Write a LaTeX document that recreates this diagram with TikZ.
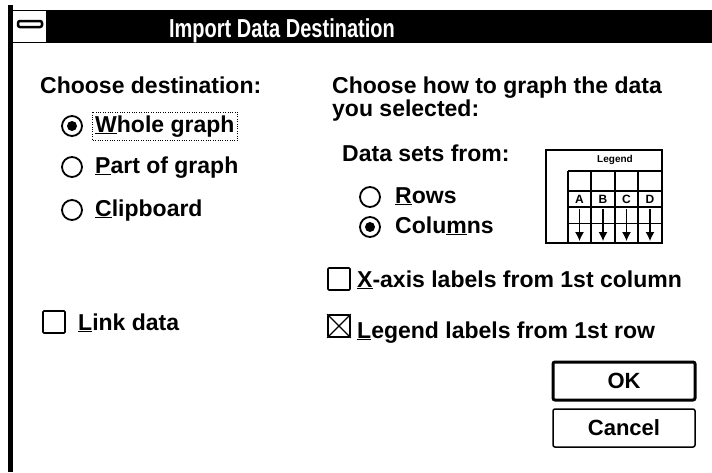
\documentclass[tikz,border=0pt]{standalone}
\usepackage{fontspec}
\setmainfont{Liberation Sans}
\usepackage{graphicx}
\usepackage{tikz}
\usetikzlibrary{arrows.meta, positioning, calc}

\tikzset{
  lbl/.style={anchor=base west, inner sep=0pt, font=\fontsize{23}{27}\selectfont\bfseries},
  radio/.style={circle, draw, line width=1.8pt, minimum size=20pt, inner sep=0pt},
  radiodot/.style={circle, fill, minimum size=10pt, inner sep=0pt},
  chkbox/.style={draw, line width=1.6pt, minimum size=22pt, inner sep=0pt, rounded corners=1pt},
  btn/.style={draw, minimum width=142pt, minimum height=38pt, inner sep=0pt, rounded corners=2pt,
    font=\fontsize{22}{26}\selectfont\bfseries},
}

\begin{document}
\begin{tikzpicture}[x=1pt, y=-1pt]
  \useasboundingbox (0,0) rectangle (712,472);

  % Window frame and title bar
  \fill (8,5) rectangle (13,472);
  \fill (8,10) rectangle (712,43);
  \fill[white] (13,11) rectangle (46,42);
  \draw[line width=2.5pt, rounded corners=2pt] (18,21) rectangle (42,27);
  \node[anchor=base, inner sep=0pt, text=white, font=\fontsize{26}{28}\selectfont\bfseries]
    (title) at (282,37) {\scalebox{0.77}[1]{Import Data Destination}};

  % Destination choices
  \node[lbl] (dest) at (40,93) {Choose destination:};
  \node[radio] (rwhole) at (72,126) {};
  \node[radiodot] (rwholedot) at (rwhole) {};
  \node[lbl] (whole) at (95,132) {\underline{W}hole graph};
  \draw[dotted, thin] ([xshift=-3pt,yshift=3pt]whole.north west) rectangle ([xshift=3pt,yshift=-3pt]whole.south east);
  \node[radio] (rpart) at (72,167) {};
  \node[lbl] (part) at (95,173) {\underline{P}art of graph};
  \node[radio] (rclip) at (72,210) {};
  \node[lbl] (clip) at (95,216) {\underline{C}lipboard};

  % Link check box
  \node[chkbox] (blink) at (54,322) {};
  \node[lbl] (link) at (78,330) {\underline{L}ink data};

  % How to graph
  \node[lbl, anchor=north west, align=left, font=\fontsize{23}{20}\selectfont\bfseries]
    (howto) at (332,77) {Choose how to graph the data\\you selected:};
  \node[lbl] (sets) at (342,161) {Data sets from:};
  \node[radio] (rrows) at (370,197) {};
  \node[lbl] (rows) at (395,203) {\underline{R}ows};
  \node[radio] (rcols) at (370,227) {};
  \node[radiodot] (rcolsdot) at (rcols) {};
  \node[lbl] (cols) at (395,233) {Colu\underline{m}ns};

  % Legend picture
  \draw[line width=1.5pt] (546,150) rectangle (662,243);
  \node[inner sep=0pt, font=\fontsize{10}{10}\selectfont\bfseries] (lgdtitle) at (615,160) {Legend};
  \foreach \y in {171,191,207}
    \draw[line width=1.2pt] (568,\y) -- (662,\y);
  \foreach \x in {568,591,615,638}
    \draw[line width=1.2pt] (\x,171) -- (\x,243);
  \draw[line width=1pt] (568,223) -- (662,223);
  \foreach \x/\t in {579.5/A, 603/B, 626.5/C, 650/D} {
    \node[inner sep=0pt, font=\fontsize{12}{12}\selectfont\bfseries] (lgd\t) at (\x,199) {\t};
    \draw[line width=1.2pt, -{Latex[length=9pt, width=9pt]}] (\x,209) -- (\x,241);
  }

  % Label check boxes
  \node[chkbox] (bxaxis) at (339,279) {};
  \node[lbl] (xaxis) at (357,287) {\underline{X}-axis labels from 1st column};
  \node[chkbox] (blegend) at (339,326) {};
  \draw[line width=1.2pt] (blegend.north west) -- (blegend.south east)
    (blegend.north east) -- (blegend.south west);
  \node[lbl] (legend) at (357,338) {\underline{L}egend labels from 1st row};

  % Buttons
  \node[btn, line width=3pt] (ok) at (624,381) {OK};
  \node[btn, line width=1.5pt] (cancel) at (624,428) {Cancel};
\end{tikzpicture}
\end{document}
